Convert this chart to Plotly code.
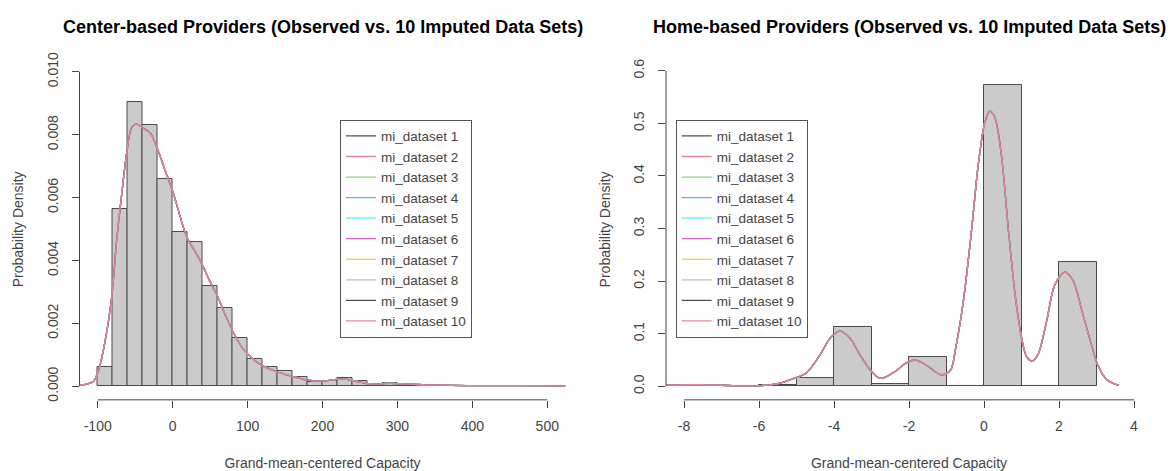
import plotly.graph_objects as go

# ---------------- data ----------------
center_breaks = list(range(-100, 520, 20))
center_density = [0.0006, 0.00565, 0.00904, 0.00831, 0.00659, 0.0049, 0.00459, 0.00318,
                  0.00249, 0.00154, 0.00088, 0.00062, 0.00048, 0.00029, 0.00015, 0.00018,
                  0.00025, 0.00018, 0.00002, 0.00009, 0.00007, 0.00002, 0.00002, 0.00002,
                  0.0, 0.00002, 0.00002, 0.0, 0.0, 0.00002]

center_kde_x = [-124, -106, -99, -90, -81, -75, -68, -61, -55, -49, -39, -30, -21, -10, 1, 10,
                19, 28, 39, 50, 59, 70, 81, 94, 108, 121, 139, 157, 179, 199, 219, 232, 246,
                263, 290, 312, 348, 392, 459, 524]
center_kde_y = [0.00003, 0.00015, 0.0005, 0.00145, 0.0029, 0.00457, 0.0061, 0.00748, 0.00821,
                0.00834, 0.00821, 0.00806, 0.00759, 0.00686, 0.00613, 0.0054, 0.00473, 0.00436,
                0.00389, 0.00332, 0.00291, 0.00228, 0.00171, 0.00119, 0.00085, 0.00064, 0.00046,
                0.00033, 0.0002, 0.00016, 0.00022, 0.00022, 0.00015, 0.00008, 0.00009, 0.00007,
                0.00004, 0.00002, 0.00002, 0.00001]

home_breaks = list(range(-8, 4, 1))
home_density = [0.002, 0.0, 0.002, 0.0153, 0.1135, 0.004, 0.0556, 0.0, 0.573, 0.0, 0.237]

home_kde_x = [-8.48, -8.0, -7.5, -7.0, -6.5, -6.0, -5.5, -5.1, -4.73, -4.37, -4.11, -3.84,
              -3.57, -3.31, -3.04, -2.77, -2.42, -2.06, -1.84, -1.53, -1.15, -0.9, -0.75,
              -0.55, -0.33, -0.15, 0.03, 0.16, 0.29, 0.47, 0.65, 0.83, 1.0, 1.14, 1.29, 1.45,
              1.67, 1.89, 2.16, 2.38, 2.61, 2.83, 3.05, 3.27, 3.49, 3.6]
home_kde_y = [0.002, 0.003, 0.003, 0.002, 0.0008, 0.0012, 0.005, 0.014, 0.026, 0.060, 0.091,
              0.105, 0.091, 0.060, 0.032, 0.015, 0.026, 0.045, 0.050, 0.040, 0.022, 0.03,
              0.075, 0.162, 0.298, 0.423, 0.504, 0.523, 0.511, 0.436, 0.298, 0.174, 0.093,
              0.056, 0.048, 0.062, 0.124, 0.193, 0.217, 0.200, 0.144, 0.088, 0.038, 0.013,
              0.004, 0.002]

dataset_names = ["mi_dataset %d" % i for i in range(1, 11)]
dataset_colors = ["#505050", "#E4879A", "#86D878", "#62B0EC", "#6CE8EA", "#D55CCB",
                  "#F5D060", "#BDBDBD", "#505050", "#E4879A"]

titles = ["Center-based Providers (Observed vs. 10 Imputed Data Sets)",
          "Home-based Providers (Observed vs. 10 Imputed Data Sets)"]
x_title = "Grand-mean-centered Capacity"
y_title = "Probability Density"

center_xticks = [-100, 0, 100, 200, 300, 400, 500]
center_xlabels = ["-100", "0", "100", "200", "300", "400", "500"]
center_yticks = [0.0, 0.002, 0.004, 0.006, 0.008, 0.010]
center_ylabels = ["0.000", "0.002", "0.004", "0.006", "0.008", "0.010"]
home_xticks = [-8, -6, -4, -2, 0, 2, 4]
home_xlabels = ["-8", "-6", "-4", "-2", "0", "2", "4"]
home_yticks = [0.0, 0.1, 0.2, 0.3, 0.4, 0.5, 0.6]
home_ylabels = ["0.0", "0.1", "0.2", "0.3", "0.4", "0.5", "0.6"]

# ---------------- figure ----------------
W, H = 1168, 471
FONT = "Liberation Sans, Arial, Helvetica, sans-serif"
AXC = "#444444"


def fx(px):
    return px / W


def fy(py):
    return 1 - py / H


fig = go.Figure()


def mids(breaks):
    return [(a + b) / 2 for a, b in zip(breaks[:-1], breaks[1:])]


panels = [
    dict(breaks=center_breaks, dens=center_density, kx=center_kde_x, ky=center_kde_y,
         xa="x", ya="y", legend="legend"),
    dict(breaks=home_breaks, dens=home_density, kx=home_kde_x, ky=home_kde_y,
         xa="x2", ya="y2", legend="legend2"),
]

for p in panels:
    width = p["breaks"][1] - p["breaks"][0]
    fig.add_trace(go.Bar(
        x=mids(p["breaks"]), y=p["dens"], width=width,
        marker=dict(color="#cbcbcb", line=dict(color="#4a4a4a", width=1)),
        xaxis=p["xa"], yaxis=p["ya"], showlegend=False, hoverinfo="skip"))
    for name, col in zip(dataset_names, dataset_colors):
        fig.add_trace(go.Scatter(
            x=p["kx"], y=p["ky"], mode="lines", name=name,
            line=dict(color=col, width=1.3, shape="spline", smoothing=0.9),
            xaxis=p["xa"], yaxis=p["ya"], legend=p["legend"]))

ydom = [fy(400.5), fy(53)]
xdom1 = [fx(79.5), fx(565.5)]
xdom2 = [fx(666), fx(1152)]

common_x = dict(showgrid=False, zeroline=False, showline=False, ticks="outside", ticklen=7,
                tickcolor=AXC, tickwidth=1, tickfont=dict(size=14, color=AXC, family=FONT),
                ticklabelstandoff=6,
                title=dict(text=x_title, font=dict(size=14, color=AXC, family=FONT), standoff=25))
common_y = dict(showgrid=False, zeroline=False, showline=False, ticks="outside", ticklen=7,
                tickcolor=AXC, tickwidth=1, tickangle=-90,
                tickfont=dict(size=14, color=AXC, family=FONT), ticklabelstandoff=8,
                title=dict(text=y_title, font=dict(size=14, color=AXC, family=FONT), standoff=17))

legend_common = dict(xanchor="left", yanchor="middle", bgcolor="white",
                     bordercolor="#555555", borderwidth=1,
                     font=dict(size=13.5, color=AXC, family=FONT), itemwidth=30,
                     tracegroupgap=0)

fig.update_layout(
    width=W, height=H, margin=dict(l=0, r=0, t=0, b=0),
    paper_bgcolor="white", plot_bgcolor="white", bargap=0,
    font=dict(family=FONT, color=AXC),
    xaxis=dict(domain=xdom1, range=[-124.3, 524.3], tickvals=center_xticks,
               ticktext=center_xlabels, anchor="y", **common_x),
    yaxis=dict(domain=ydom, range=[-0.000434, 0.010409], tickvals=center_yticks,
               ticktext=center_ylabels, anchor="x", **common_y),
    xaxis2=dict(domain=xdom2, range=[-8.48, 4.48], tickvals=home_xticks,
                ticktext=home_xlabels, anchor="y2", **common_x),
    yaxis2=dict(domain=ydom, range=[-0.02574, 0.62238], tickvals=home_yticks,
                ticktext=home_ylabels, anchor="x2", **common_y),
    legend=dict(x=fx(340), y=fy(226), **legend_common),
    legend2=dict(x=fx(675.7), y=fy(226), **legend_common),
)

# R-style axis lines spanning only first to last tick
for xa, ya, xt, yt in [("x", "y", center_xticks, center_yticks),
                       ("x2", "y2", home_xticks, home_yticks)]:
    fig.add_shape(type="line", xref=xa, yref=ya + " domain", x0=xt[0], x1=xt[-1], y0=0, y1=0,
                  line=dict(color=AXC, width=1))
    fig.add_shape(type="line", xref=xa + " domain", yref=ya, x0=0, x1=0, y0=yt[0], y1=yt[-1],
                  line=dict(color=AXC, width=1))

for i, t in enumerate(titles):
    xa = "x" if i == 0 else "x2"
    fig.add_annotation(text="<b>%s</b>" % t, xref=xa + " domain", yref="paper", x=0.5,
                       y=fy(20), yanchor="middle", showarrow=False,
                       font=dict(size=18, color="black", family=FONT))

# remove the default 8px page margin so the 1168x471 figure fills the window exactly
fig.write_html("out.html",
               config={"displayModeBar": False},
               post_script="document.body.style.margin='0';"
                           "document.body.style.overflow='hidden';")
